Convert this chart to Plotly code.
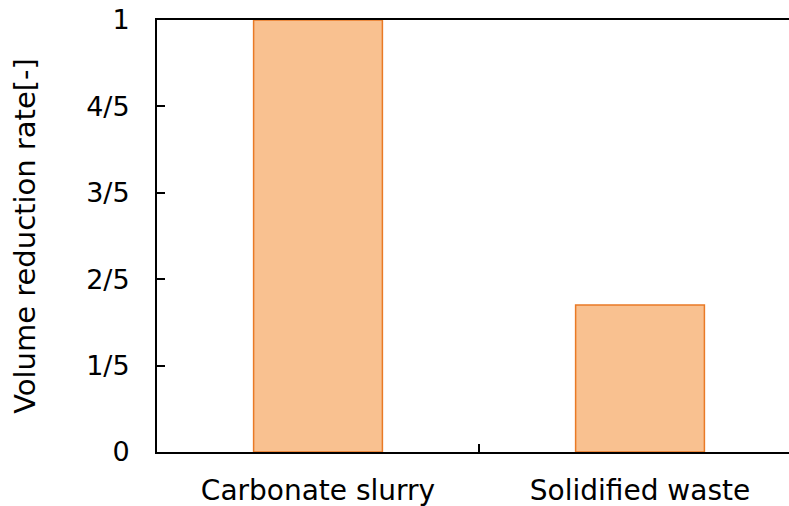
import plotly.graph_objects as go

categories = ["Carbonate slurry", "Solidified waste"]
values = [1.0, 0.34]
ytick_vals = [0, 0.2, 0.4, 0.6, 0.8, 1.0]
ytick_text = ["0", "1/5", "2/5", "3/5", "4/5", "1"]

font = "DejaVu Sans"

fig = go.Figure(go.Bar(
    x=categories, y=values, width=0.4,
    marker=dict(color="#F9C190", line=dict(color="#E97A26", width=1.5)),
))

fig.update_layout(
    width=789, height=506,
    margin=dict(l=157, r=0, t=20, b=54),
    paper_bgcolor="white", plot_bgcolor="white",
    showlegend=False,
    font=dict(family=font, size=28, color="black"),
)
fig.update_xaxes(
    type="category", range=[-0.5, 1.4627],
    showline=True, linecolor="black", linewidth=2, mirror=True,
    ticks="inside", tickson="boundaries", ticklen=8, tickcolor="black", tickwidth=1.5,
    showgrid=False, ticklabelstandoff=12,
    tickfont=dict(family=font, size=28),
)
fig.update_yaxes(
    range=[0, 1], tickvals=ytick_vals, ticktext=ytick_text,
    showline=True, linecolor="black", linewidth=2,
    ticks="inside", ticklen=8, tickcolor="black", tickwidth=1.5,
    showgrid=False, zeroline=False, ticklabelstandoff=20,
    tickfont=dict(family=font, size=27),
    title=dict(text="Volume reduction rate[-]", font=dict(family=font, size=29), standoff=42),
)

fig.write_html("out.html")
